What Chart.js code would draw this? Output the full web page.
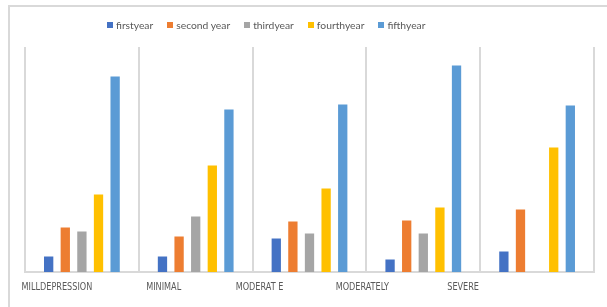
<!DOCTYPE html>
<html>
<head>
<meta charset="utf-8">
<script src="https://cdn.jsdelivr.net/npm/chart.js@4.4.1/dist/chart.umd.min.js"></script>
<style>
  html, body { margin: 0; padding: 0; background: #fff; }
  #wrap { position: relative; width: 607px; height: 307px; overflow: hidden; }
  #frame { position: absolute; left: 8px; top: 5px; width: 700px; height: 400px;
           border-left: 2px solid #d9d9d9; border-top: 2px solid #d9d9d9; }
  #chart { position: absolute; left: 0; top: 0; }
  #legend { position: absolute; left: 107px; top: 19px; display: flex;
            font-family: Lato, sans-serif; font-size: 10.3px; color: #595959; }
  #legend span.item { display: flex; align-items: center; margin-right: 14px; }
  #legend i { display: inline-block; width: 6px; height: 6px; margin-right: 3px; }
</style>
</head>
<body>
<div id="wrap">
  <div id="frame"></div>
  <canvas id="chart" width="607" height="307"></canvas>
  <div id="legend"></div>
</div>
<script>
const categories = ["MILLDEPRESSION", "MINIMAL", "MODERAT E", "MODERATELY", "SEVERE"];
const seriesNames = ["firstyear", "second year", "thirdyear", "fourthyear", "fifthyear"];
const seriesColors = ["#4472C4", "#ED7D31", "#A5A5A5", "#FFC000", "#5B9BD5"];

const firstYear  = [3.1, 3.1, 6.7, 2.5, 4.1];
const secondYear = [8.9, 7.1, 10.1, 10.3, 12.5];
const thirdYear  = [8.1, 11.1, 7.7, 7.7, 0];
const fourthYear = [15.5, 21.3, 16.7, 12.9, 24.9];
const fifthYear  = [39.1, 32.5, 33.5, 41.3, 33.3];

// label nudges, the source picture has its category labels drifted left
const labelShift = [-25, -32, -50, -61, -74];

const allSeries = [firstYear, secondYear, thirdYear, fourthYear, fifthYear];

// html legend
const legendEl = document.getElementById('legend');
seriesNames.forEach((name, i) => {
    const item = document.createElement('span');
    item.className = 'item';
    item.innerHTML = '<i style="background:' + seriesColors[i] + '"></i>' + name;
    legendEl.appendChild(item);
});

const catLabels = {
    id: 'catLabels',
    afterDraw(chart) {
        const ctx = chart.ctx;
        const x = chart.scales.x;
        categories.forEach((c, i) => {
            ctx.save();
            ctx.font = "10.5px 'Liberation Sans Narrow', 'DejaVu Sans Condensed', sans-serif";
            ctx.fillStyle = "#595959";
            ctx.textAlign = "center";
            ctx.textBaseline = "middle";
            ctx.translate(x.getPixelForValue(i) + labelShift[i], 287);
            ctx.scale(0.86, 1); // squeeze, the original font is narrower
            ctx.fillText(c, 0, 0);
            ctx.restore();
        });
    }
};

new Chart(document.getElementById('chart'), {
    type: 'bar',
    data: {
        labels: categories,
        datasets: allSeries.map((d, i) => ({
            label: seriesNames[i],
            data: d,
            backgroundColor: seriesColors[i],
            categoryPercentage: 0.73,
            barPercentage: 0.56
        }))
    },
    options: {
        responsive: false,
        animation: false,
        layout: { padding: { left: 25, right: 13, top: 47, bottom: 0 } },
        plugins: {
            legend: { display: false },
            tooltip: { enabled: false }
        },
        scales: {
            x: {
                grid: { color: '#d9d9d9', lineWidth: 2, drawTicks: false, offset: true },
                border: { color: '#d9d9d9', width: 2 },
                ticks: { display: false },
                afterFit: s => { s.height = 35; }
            },
            y: {
                display: false,
                min: 0,
                max: 45
            }
        }
    },
    plugins: [catLabels]
});
</script>
</body>
</html>
